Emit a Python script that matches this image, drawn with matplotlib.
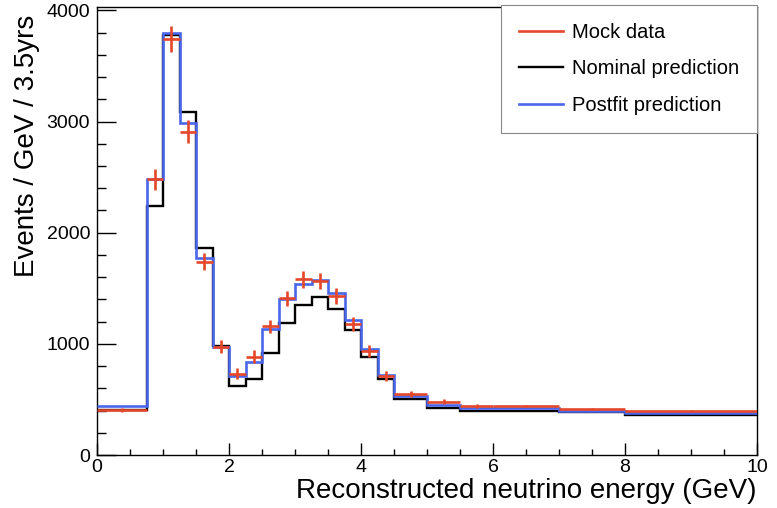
import numpy as np
import matplotlib
matplotlib.use("Agg")
import matplotlib.pyplot as plt
from matplotlib.lines import Line2D
from matplotlib.ticker import MultipleLocator

plt.rcParams['font.family'] = ['Liberation Sans', 'DejaVu Sans']

# bin edges in GeV
edges = [0, 0.75, 1.0, 1.25, 1.5, 1.75, 2.0, 2.25, 2.5, 2.75, 3.0, 3.25,
         3.5, 3.75, 4.0, 4.25, 4.5, 5.0, 5.5, 6.0, 7.0, 8.0, 10.0]

nominal = [405, 2240, 3775, 3085, 1862, 985, 622, 682, 922, 1190, 1351,
           1420, 1312, 1120, 886, 682, 505, 420, 399, 396, 385, 360]
postfit = [444, 2480, 3795, 2990, 1768, 976, 712, 841, 1132, 1400, 1540,
           1577, 1456, 1216, 952, 724, 532, 450, 420, 420, 399, 381]
mock = [405, 2480, 3740, 2910, 1740, 976, 730, 886, 1156, 1411, 1580,
        1565, 1430, 1180, 935, 710, 548, 480, 445, 441, 417, 399]
mock_err = [15, 95, 115, 105, 80, 60, 50, 55, 62, 68, 75,
            75, 70, 62, 55, 48, 25, 20, 18, 10, 10, 8]

red = '#e5472b'
blue = '#4a66ea'

edges_a = np.array(edges)
centers = 0.5 * (edges_a[1:] + edges_a[:-1])
halfw = 0.5 * (edges_a[1:] - edges_a[:-1])

fig = plt.figure(figsize=(7.77, 5.08), dpi=100)
ax = fig.add_axes([97/777, 1-455/508, 660/777, 448/508])

ax.stairs(nominal, edges, baseline=None, color='black', lw=1.7, zorder=2)
ax.stairs(postfit, edges, baseline=None, color=blue, lw=1.9, zorder=3)
ax.errorbar(centers, mock, xerr=halfw, yerr=mock_err, fmt='none',
            ecolor=red, elinewidth=1.9, capsize=0, zorder=4)

ax.set_xlim(0, 10)
ax.set_ylim(0, 4030)
ax.xaxis.set_major_locator(MultipleLocator(2))
ax.xaxis.set_minor_locator(MultipleLocator(0.5))
ax.yaxis.set_major_locator(MultipleLocator(1000))
ax.yaxis.set_minor_locator(MultipleLocator(200))
ax.tick_params(axis='both', which='both', direction='in', labelsize=14,
               width=1, top=False, right=False)
ax.tick_params(axis='y', which='major', length=13.5, pad=5)
ax.tick_params(axis='y', which='minor', length=6.8)
ax.tick_params(axis='x', which='major', length=8.6, pad=3)
ax.tick_params(axis='x', which='minor', length=4.3)
for s in ax.spines.values():
    s.set_linewidth(1.0)

ax.set_xlabel('Reconstructed neutrino energy (GeV)', fontsize=20, loc='right')
ax.set_ylabel('Events / GeV / 3.5yrs', fontsize=20, loc='top')
ax.xaxis.set_label_coords(1.0, -0.052)
ax.yaxis.set_label_coords(-0.086, 0.982)

handles = [Line2D([], [], color=red, lw=1.9),
           Line2D([], [], color='black', lw=1.7),
           Line2D([], [], color=blue, lw=1.9)]
leg = ax.legend(handles, ['Mock data', 'Nominal prediction', 'Postfit prediction'],
                loc='upper right', bbox_to_anchor=(1.0, 1.004), borderaxespad=0,
                fontsize=14.5, handlelength=2.15, handletextpad=0.45,
                labelspacing=0.85, borderpad=0.9, fancybox=False, framealpha=1)
leg.get_frame().set_edgecolor('#888888')
leg.get_frame().set_linewidth(0.8)

fig.savefig('out.png', dpi=100)
